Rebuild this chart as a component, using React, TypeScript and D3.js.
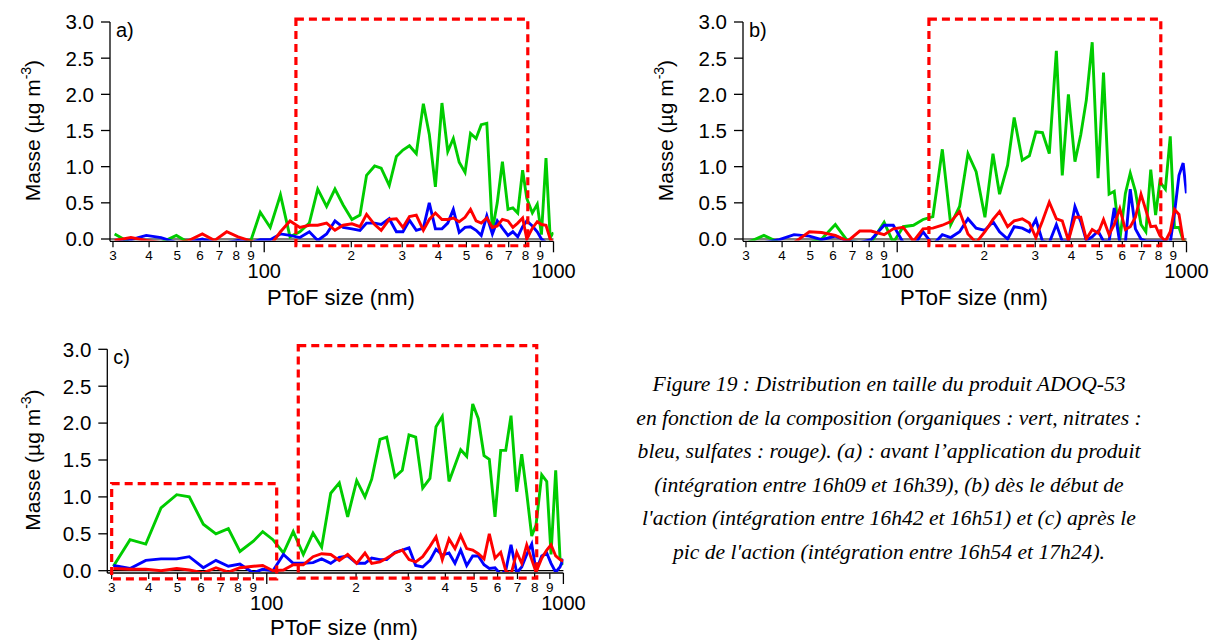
import React from "react";
import * as d3 from "d3";

// Particle size bins (nm, vacuum aerodynamic diameter)
const sizes = [30.4, 34.6, 39.1, 44.0, 49.7, 54.8, 61.1, 67.4, 74.2, 81.2, 90.1, 96.9, 104.9, 113.8, 122.8, 132.8, 143.2, 153.1, 164.3, 175.6, 187.4, 201.0, 214.3, 225.8, 240.8, 253.7, 270.5, 286.3, 301.6, 317.7, 335.5, 354.9, 372.0, 390.6, 411.5, 431.0, 450.5, 472.1, 494.6, 516.6, 540.0, 562.6, 588.1, 614.7, 639.1, 665.9, 696.1, 723.6, 752.3, 782.0, 808.6, 845.2, 878.7, 908.5, 942.0, 973.9, 999.3];

// Panel a
const orgA = [0.07, -0.06, -0.05, -0.05, 0.05, -0.05, -0.08, -0.08, -0.08, -0.08, -0.01, 0.37, 0.16, 0.61, 0.03, 0.1, 0.22, 0.69, 0.45, 0.69, 0.47, 0.27, 0.33, 0.88, 1.01, 0.98, 0.74, 1.14, 1.23, 1.29, 1.18, 1.87, 1.45, 0.72, 1.88, 1.21, 1.39, 1.06, 0.92, 1.46, 1.39, 1.58, 1.6, 0.12, 0.5, 1.07, 0.41, 0.43, 0.36, 0.95, 0.56, 0.36, 0.48, 0.06, 1.12, 0.02, 0.09];
const nitA = [-0.05, -0.01, 0.05, 0.02, -0.05, -0.05, 0.0, -0.05, -0.05, -0.02, -0.05, -0.01, -0.01, 0.07, 0.05, 0.02, 0.1, -0.02, 0.07, 0.25, 0.16, 0.14, 0.12, 0.22, 0.22, 0.2, 0.28, 0.1, 0.1, 0.26, 0.12, 0.15, 0.5, 0.14, 0.14, 0.22, 0.41, 0.09, 0.16, 0.17, 0.12, 0.05, 0.32, 0.07, 0.25, 0.15, 0.05, 0.1, 0.03, 0.17, 0.25, 0.18, 0.1, 0.0, -0.05, -0.05, -0.05];
const sulA = [-0.02, 0.02, -0.02, -0.05, -0.05, -0.02, 0.07, -0.02, 0.1, 0.03, -0.03, -0.08, -0.09, 0.1, 0.25, 0.16, 0.19, 0.19, 0.22, 0.12, 0.19, 0.21, 0.17, 0.34, 0.2, 0.12, 0.27, 0.28, 0.16, 0.31, 0.33, 0.12, 0.27, 0.36, 0.27, 0.27, 0.29, 0.24, 0.3, 0.41, 0.25, 0.22, 0.29, 0.16, 0.18, 0.27, 0.25, 0.16, 0.22, 0.29, 0.0, 0.15, 0.24, 0.2, 0.19, 0.0, -0.05];

// Panel b
const orgB = [-0.05, 0.05, -0.05, -0.05, -0.05, 0.0, 0.2, -0.03, -0.05, -0.05, 0.23, -0.05, 0.17, 0.19, 0.27, 0.31, 1.24, 0.2, 0.45, 1.18, 0.93, 0.3, 1.18, 0.62, 1.02, 1.68, 1.09, 1.15, 1.48, 1.47, 1.18, 2.6, 0.88, 2.0, 1.07, 1.44, 1.92, 2.72, 0.84, 2.3, 0.62, 0.66, -0.02, 0.63, 0.91, 0.66, 0.2, 0.1, 0.96, 0.33, 0.79, 0.69, 1.42, 0.16, 0.16, -0.02, -0.05];
const nitB = [-0.05, -0.05, -0.01, 0.06, 0.04, -0.01, 0.04, -0.03, -0.05, -0.01, 0.19, 0.19, -0.05, -0.1, 0.1, -0.08, 0.06, 0.02, 0.1, 0.28, 0.15, 0.12, 0.24, 0.1, 0.0, 0.17, 0.15, 0.1, 0.27, -0.03, -0.05, 0.2, -0.03, -0.03, 0.45, 0.24, -0.02, 0.03, 0.11, -0.03, -0.03, 0.43, -0.05, -0.05, 0.69, 0.14, 0.0, -0.03, -0.03, -0.03, -0.03, -0.03, -0.05, 0.35, 0.88, 1.05, 0.63];
const sulB = [-0.05, -0.05, -0.05, -0.05, 0.1, 0.09, 0.05, -0.03, 0.11, 0.11, 0.06, 0.14, 0.16, -0.03, 0.14, 0.15, 0.19, 0.24, 0.38, 0.07, -0.05, 0.1, 0.27, 0.38, 0.17, 0.25, 0.28, 0.22, 0.02, 0.25, 0.51, 0.28, 0.25, -0.02, 0.3, 0.3, 0.0, 0.13, 0.08, 0.27, 0.06, 0.2, 0.42, 0.13, 0.17, 0.3, 0.62, 0.4, 0.17, 0.18, 0.05, -0.03, 0.1, 0.41, 0.34, -0.02, -0.05];

// Panel c
const orgC = [0.06, 0.42, 0.36, 0.85, 1.03, 1.0, 0.63, 0.5, 0.57, 0.26, 0.4, 0.53, 0.42, 0.24, 0.53, 0.22, 0.51, 0.32, 1.05, 1.19, 0.73, 1.22, 1.0, 1.24, 1.78, 1.81, 1.27, 1.36, 1.84, 1.81, 1.12, 1.25, 1.95, 2.09, 1.21, 1.43, 1.64, 1.55, 2.26, 2.06, 1.56, 1.51, 0.73, 1.63, 1.63, 2.1, 1.07, 1.58, 1.05, 0.47, 0.62, 1.3, 1.21, 0.22, 1.36, 0.17, 0.08];
const nitC = [0.07, 0.03, 0.14, 0.16, 0.16, 0.19, 0.04, 0.14, 0.06, 0.09, -0.03, 0.02, 0.0, 0.22, 0.1, 0.1, 0.11, 0.16, 0.1, 0.18, 0.2, 0.1, 0.1, 0.17, 0.15, 0.15, 0.25, 0.28, 0.31, 0.07, 0.05, 0.14, 0.29, 0.21, 0.24, 0.1, 0.28, 0.07, 0.2, 0.2, 0.08, 0.03, 0.04, -0.05, 0.0, 0.35, -0.03, 0.05, 0.22, 0.36, 0.0, 0.2, 0.24, 0.1, -0.02, 0.05, 0.16];
const sulC = [0.03, 0.02, 0.02, 0.0, 0.03, 0.01, -0.03, 0.04, -0.02, 0.04, 0.06, 0.07, 0.0, 0.01, 0.08, 0.08, 0.19, 0.23, 0.22, 0.14, 0.22, 0.1, 0.24, 0.1, 0.12, 0.17, 0.24, 0.28, 0.15, 0.12, 0.19, 0.33, 0.46, 0.15, 0.43, 0.3, 0.48, 0.3, 0.28, 0.23, 0.16, 0.5, 0.17, 0.25, 0.0, -0.05, 0.25, 0.1, 0.35, 0.15, -0.02, 0.17, 0.28, 0.35, 0.2, 0.15, 0.13];

// Integration windows (dashed boxes): [xmin nm, xmax nm, ymin, ymax]
const boxesA = [[128.7, 815, -0.093, 3.04]];
const boxesB = [[128.7, 815, -0.093, 3.04]];
const boxesC = [[30, 108, -0.11, 1.18], [127.7, 813, -0.1, 3.05]];

const yTicks = [0, 0.5, 1, 1.5, 2, 2.5, 3];
const minorTicks = [30, 40, 50, 60, 70, 80, 90, 200, 300, 400, 500, 600, 700, 800, 900];
const majorTicks = [100, 1000];
const seriesColors = ["#00CC00", "#0000FF", "#FF0000"];

const captionLines = [
  "Figure 19 : Distribution en taille du produit ADOQ-53",
  "en fonction de la composition (organiques : vert, nitrates :",
  "bleu, sulfates : rouge). (a) : avant l\u2019application du produit",
  "(int\u00e9gration entre 16h09 et 16h39), (b) d\u00e8s le d\u00e9but de",
  "l'action (int\u00e9gration entre 16h42 et 16h51) et (c) apr\u00e8s le",
  "pic de l'action (int\u00e9gration entre 16h54 et 17h24).",
];

const FONT = "'Liberation Sans', Arial, Helvetica, sans-serif";

type PanelCfg = {
  id: string;
  letter: string;
  x0: number; x1: number; xMin: number;
  yZero: number; yTop: number;
  series: number[][];
  boxes: number[][];
  yLabelX: number;
  titleX: number;
  titleDy: number;
};

const panels: PanelCfg[] = [
  { id: "a", letter: "a)", x0: 110, x1: 553.5, xMin: 29.3, yZero: 239, yTop: 22, series: [orgA, nitA, sulA], boxes: boxesA, yLabelX: 33, titleX: 341, titleDy: 66 },
  { id: "b", letter: "b)", x0: 743, x1: 1186.5, xMin: 29.3, yZero: 239, yTop: 22, series: [orgB, nitB, sulB], boxes: boxesB, yLabelX: 666, titleX: 974, titleDy: 66 },
  { id: "c", letter: "c)", x0: 107.3, x1: 563.4, xMin: 29.0, yZero: 570.7, yTop: 349.3, series: [orgC, nitC, sulC], boxes: boxesC, yLabelX: 33, titleX: 344, titleDy: 64.5 },
];

function Panel({ p }: { p: PanelCfg }) {
  const x = d3.scaleLog().domain([p.xMin, 1000]).range([p.x0, p.x1]);
  const y = d3.scaleLinear().domain([0, 3]).range([p.yZero, p.yTop]);
  const axisY = p.yZero + 2.3;
  const line = d3
    .line<number>()
    .x((_, i) => x(sizes[i]))
    .y((d) => y(d));
  const clipId = "clip-" + p.id;
  const yMid = (p.yZero + p.yTop) / 2;
  return (
    <g>
      <defs>
        <clipPath id={clipId}>
          <rect x={p.x0} y={p.yTop - 2} width={p.x1 - p.x0} height={p.yZero - p.yTop + 3.4} />
        </clipPath>
      </defs>
      {/* y axis */}
      <line x1={p.x0} x2={p.x0} y1={p.yTop} y2={axisY} stroke="#000" strokeWidth={1.3} />
      {yTicks.map((t) => (
        <g key={t}>
          <line x1={p.x0 - 9} x2={p.x0} y1={y(t)} y2={y(t)} stroke="#000" strokeWidth={1.3} />
          <text x={p.x0 - 16} y={y(t)} dy="0.36em" textAnchor="end" fontSize={20.5} fontFamily={FONT}>
            {d3.format(".1f")(t)}
          </text>
        </g>
      ))}
      {/* zero line and x axis */}
      <line x1={p.x0} x2={p.x1} y1={p.yZero} y2={p.yZero} stroke="#000" strokeWidth={1.2} />
      <line x1={p.x0} x2={p.x1} y1={axisY} y2={axisY} stroke="#000" strokeWidth={1.3} />
      {minorTicks.map((t) => (
        <g key={"m" + t}>
          <line x1={x(t)} x2={x(t)} y1={axisY} y2={axisY + 6} stroke="#000" strokeWidth={1.2} />
          <text x={x(t)} y={axisY + 18.5} textAnchor="middle" fontSize={13.5} fontFamily={FONT}>
            {String(t < 100 ? t / 10 : t / 100)}
          </text>
        </g>
      ))}
      {majorTicks.map((t) => (
        <g key={"M" + t}>
          <line x1={x(t)} x2={x(t)} y1={axisY} y2={axisY + 11} stroke="#000" strokeWidth={1.3} />
          <text x={x(t)} y={axisY + 37} textAnchor="middle" fontSize={20} fontFamily={FONT}>
            {String(t)}
          </text>
        </g>
      ))}
      {/* titles */}
      <text x={p.titleX} y={p.yZero + p.titleDy} textAnchor="middle" fontSize={22} fontFamily={FONT}>
        PToF size (nm)
      </text>
      <text
        transform={`translate(${p.yLabelX},${yMid}) rotate(-90)`}
        textAnchor="middle"
        dy="0.35em"
        fontSize={21}
        fontFamily={FONT}
      >
        Masse (µg m<tspan dy={-9} fontSize={14}>-3</tspan>
        <tspan dy={9}>)</tspan>
      </text>
      <text x={p.x0 + 6} y={p.yTop + 15} fontSize={20} fontFamily={FONT}>
        {p.letter}
      </text>
      {/* data */}
      <g clipPath={`url(#${clipId})`}>
        {p.series.map((s, k) => (
          <path key={k} d={line(s) || ""} fill="none" stroke={seriesColors[k]} strokeWidth={2.9} strokeLinejoin="miter" />
        ))}
      </g>
      {/* integration boxes */}
      {p.boxes.map((b, i) => (
        <rect
          key={i}
          x={x(b[0])}
          y={y(b[3])}
          width={x(b[1]) - x(b[0])}
          height={y(b[2]) - y(b[3])}
          fill="none"
          stroke="#FF0000"
          strokeWidth={3.2}
          strokeDasharray="8 5"
        />
      ))}
    </g>
  );
}

export default function App() {
  return (
    <svg width={1212} height={641} style={{ position: "absolute", left: 0, top: 0, background: "#fff" }}>
      <rect width={1212} height={641} fill="#fff" />
      {panels.map((p) => (
        <Panel key={p.id} p={p} />
      ))}
      {captionLines.map((t, i) => (
        <text
          key={i}
          x={889}
          y={391 + i * 33.6}
          textAnchor="middle"
          fontSize={21.6}
          fontStyle="italic"
          fontFamily="'Liberation Serif', 'DejaVu Serif', serif"
        >
          {t}
        </text>
      ))}
    </svg>
  );
}
